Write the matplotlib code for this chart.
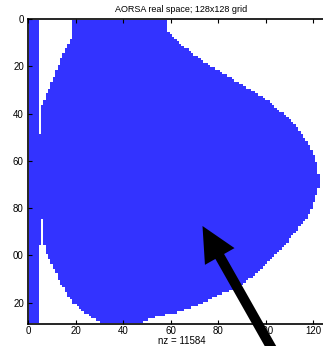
import numpy as np
import matplotlib
matplotlib.use("Agg")
import matplotlib.pyplot as plt
from matplotlib.colors import ListedColormap
from matplotlib.patches import FancyArrow

N = 128
title = "AORSA real space; 128x128 grid"
xlabel = "nz = 11584"
xticks = [0, 20, 40, 60, 80, 100, 120]
xticklabels = ["0", "20", "40", "60", "80", "100", "120"]
yticks = [0, 20, 40, 60, 80, 100, 120]
yticklabels = ["0", "20", "40", "60", "80", "00", "20"]

# columns always filled (left strip)
strip_cols = [1, 2, 3, 4]

# last filled column of each row (rows 1..128)
right_edge = [58, 58, 58, 58, 58, 59, 60, 61, 62, 63,
              64, 65, 67, 68, 69, 71, 72, 73, 75, 76,
              78, 80, 81, 83, 85, 86, 88, 90, 91, 93,
              95, 96, 98, 99, 101, 102, 103, 104, 105, 107,
              108, 109, 110, 111, 112, 113, 113, 114, 115, 115,
              116, 117, 117, 118, 118, 119, 119, 120, 120, 120,
              121, 121, 121, 121, 121, 122, 122, 122, 122, 122,
              122, 121, 121, 121, 120, 120, 120, 119, 119, 119,
              118, 118, 117, 117, 116, 115, 114, 113, 113, 112,
              111, 110, 109, 109, 108, 107, 106, 105, 104, 103,
              102, 101, 100, 99, 98, 97, 96, 95, 94, 92,
              91, 90, 88, 86, 84, 81, 79, 77, 75, 73,
              71, 68, 65, 62, 57, 53, 50, 48]

# empty columns between strip and blob (first, last); 0,0 = no gap
gap_lo = [5] * 48 + [0] * 36 + [6] * 11 + [5] * 33
gap_hi = [18, 18, 18, 18, 18, 18, 18, 18, 17, 17,
          16, 16, 15, 15, 14, 14, 13, 13, 13, 12,
          12, 11, 11, 11, 10, 10, 9, 9, 9, 8,
          8, 7, 7, 7, 6, 6, 5, 5, 5, 5,
          5, 5, 5, 5, 5, 5, 5, 5, 0, 0,
          0, 0, 0, 0, 0, 0, 0, 0, 0, 0,
          0, 0, 0, 0, 0, 0, 0, 0, 0, 0,
          0, 0, 0, 0, 0, 0, 0, 0, 0, 0,
          0, 0, 0, 0, 6, 6, 6, 6, 6, 6,
          6, 6, 6, 6, 6, 7, 7, 7, 7, 8,
          8, 9, 9, 10, 10, 11, 11, 12, 12, 12,
          13, 13, 14, 15, 15, 16, 16, 17, 18, 18,
          20, 21, 22, 23, 25, 26, 28, 30]

M = np.zeros((N, N))
for r in range(N):
    M[r, :right_edge[r]] = 1
    if gap_lo[r] > 0:
        M[r, gap_lo[r] - 1:gap_hi[r]] = 0
    for c in strip_cols:
        M[r, c - 1] = 1

plt.rcParams['font.family'] = ['Liberation Sans', 'DejaVu Sans']

W, H = 323, 346
fig = plt.figure(figsize=(W / 100, H / 100), dpi=100)
ax = fig.add_axes([28 / W, 22 / H, 306.7 / W, 305 / H])
cmap = ListedColormap(["white", "#3333ff"])
ax.imshow(M, cmap=cmap, interpolation="nearest", aspect="auto",
          extent=(0.5, N + 0.5, N + 0.5, 0.5), vmin=0, vmax=1)
ax.set_xlim(0, N + 1)
ax.set_ylim(N + 1, 0)
ax.set_xticks(xticks)
ax.set_xticklabels(xticklabels)
ax.set_yticks(yticks)
ax.set_yticklabels(yticklabels)
ax.tick_params(direction="in", length=3, width=0.8, top=True, right=True,
               labelsize=7)
ax.tick_params(axis="x", pad=1.5)
ax.tick_params(axis="y", pad=3)
for s in ax.spines.values():
    s.set_linewidth(1.2)
ax.set_title(title, fontsize=6.5, pad=5)
ax.set_xlabel(xlabel, fontsize=7, labelpad=0)

ov = fig.add_axes([0, 0, 1, 1])
ov.set_xlim(0, W)
ov.set_ylim(H, 0)
ov.axis("off")
tip = (202.5, 226.0)
tail = (284.0, 370.0)
ov.add_patch(FancyArrow(tail[0], tail[1], tip[0] - tail[0], tip[1] - tail[1],
                        width=10, head_width=34, head_length=35,
                        length_includes_head=True, color="black", lw=0))

fig.savefig("out.png", dpi=100)
